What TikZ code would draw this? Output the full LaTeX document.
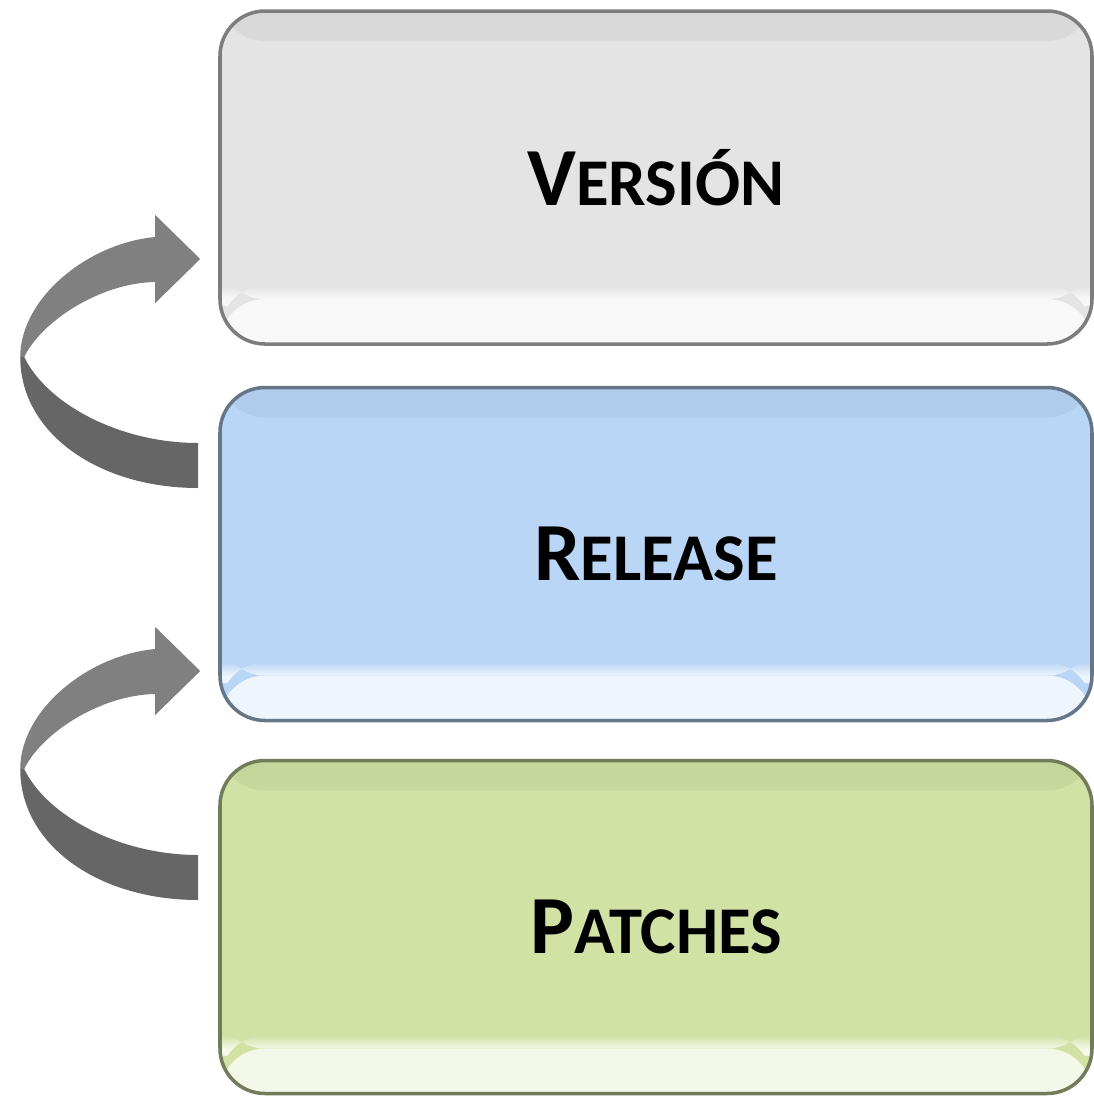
\documentclass[tikz,border=0pt]{standalone}
\usepackage{fontspec}
\setmainfont{Carlito}
\usetikzlibrary{calc,backgrounds}

\definecolor{verGray}{RGB}{228,228,228}
\definecolor{relBlue}{RGB}{186,214,246}
\definecolor{patGreen}{RGB}{209,226,164}
\definecolor{bendDark}{RGB}{102,102,102}
\definecolor{bendLight}{RGB}{128,128,128}

% label in small capitals: first letter large, the rest smaller
\newcommand{\stagelabel}[2]{\textbf{{\fontsize{23.5}{27}\selectfont #1}{\fontsize{19}{22}\selectfont #2}}}

\tikzset{
    stage/.style={rounded corners=0.45cm, minimum width=8.72cm, minimum height=3.33cm,
        inner sep=0pt, fill=#1, draw=#1!55!black, line width=1pt,
        path picture={
            \shade[top color=#1!95!black, bottom color=#1]
                ([yshift=-0.3cm]path picture bounding box.north west) rectangle
                (path picture bounding box.north east);
            \fill[white!75!#1] (path picture bounding box.south west) rectangle
                ([yshift=0.45cm]path picture bounding box.south east);
            \shade[top color=#1, bottom color=white!75!#1]
                ([yshift=0.45cm]path picture bounding box.south west) rectangle
                ([yshift=0.58cm]path picture bounding box.south east);
        }},
    bendarrow/.pic={
        % lower part of the ribbon
        \fill[bendDark] (-0.20,0) .. controls (-1.20,0) and (-1.98,0.55) .. (-1.98,1.31)
            -- (-1.94,1.31) .. controls (-1.72,0.85) and (-1.00,0.45) .. (-0.20,0.45) -- cycle;
        % upper part with the head
        \fill[bendLight] (-1.98,1.31) .. controls (-1.98,1.90) and (-1.30,2.45) .. (-0.63,2.51)
            -- (-0.63,2.73) -- (-0.18,2.29) -- (-0.63,1.85) -- (-0.63,2.06)
            .. controls (-1.20,2.05) and (-1.78,1.65) .. (-1.94,1.31) -- cycle;
    }
}

\begin{document}
\begin{tikzpicture}
    \useasboundingbox (0,0) rectangle (10.94,-10.96);

    % Stages
    \node[stage=verGray] (ver) at (6.56,-1.775) {\stagelabel{V}{ERSIÓN}};
    \node[stage=relBlue] (rel) at (6.56,-5.54) {\stagelabel{R}{ELEASE}};
    \node[stage=patGreen] (pat) at (6.56,-9.27) {\stagelabel{P}{ATCHES}};

    % Bent arrows
    \begin{scope}[on background layer]
        \pic at ($(rel.west)+(0,0.66)$) {bendarrow};
        \pic at ($(pat.west)+(0,0.27)$) {bendarrow};
    \end{scope}
\end{tikzpicture}
\end{document}
